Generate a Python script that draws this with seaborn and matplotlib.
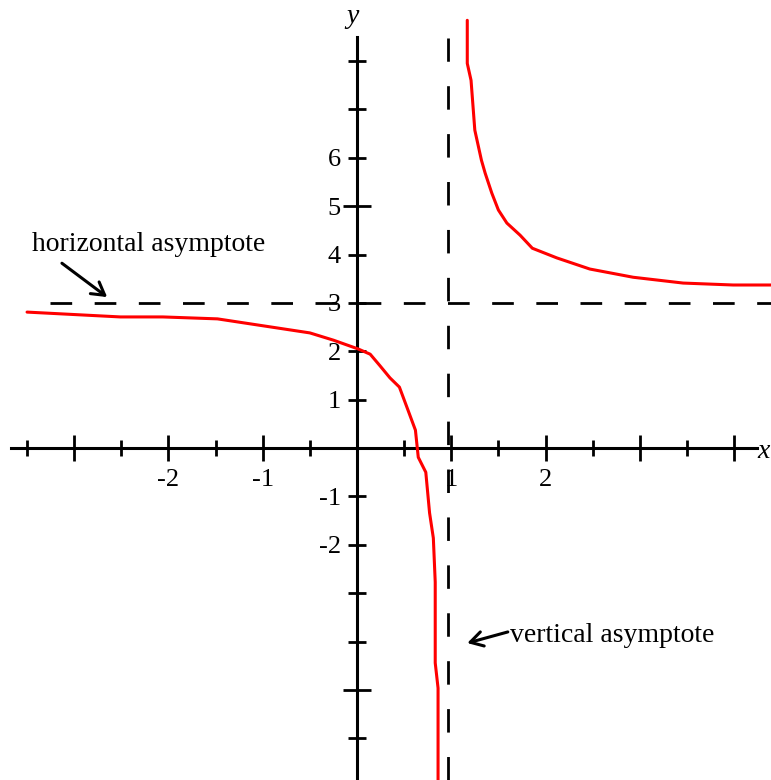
import matplotlib
matplotlib.use("Agg")
import matplotlib.pyplot as plt
import seaborn as sns
import pandas as pd

# ---------------- data ----------------
left_x = [-3.50, -2.51, -2.06, -1.48, -0.50, -0.25, 0.01, 0.14, 0.24, 0.35, 0.45,
          0.54, 0.62, 0.65, 0.73, 0.77, 0.81, 0.83, 0.83, 0.86, 0.86]
left_y = [2.81, 2.71, 2.71, 2.67, 2.38, 2.23, 2.05, 1.94, 1.71, 1.45, 1.26,
          0.79, 0.37, -0.19, -0.50, -1.34, -1.86, -2.77, -4.44, -4.96, -7.07]
right_x = [1.17, 1.17, 1.21, 1.25, 1.32, 1.36, 1.43, 1.50, 1.59, 1.73, 1.86,
           2.12, 2.47, 2.93, 3.46, 3.99, 4.43]
right_y = [8.84, 7.95, 7.60, 6.57, 5.95, 5.68, 5.27, 4.92, 4.65, 4.40, 4.13,
           3.93, 3.70, 3.53, 3.41, 3.37, 3.37]
h_asymptote = 3.0
v_asymptote = 0.97

x_major = [-3, -2, -1, 1, 2, 3, 4]
x_major_labels = ["", "-2", "-1", "1", "2", "", ""]
x_minor = [-3.5, -2.5, -1.5, -0.5, 0.5, 1.5, 2.5, 3.5]
y_major = [-5, 5]
y_major_labels = ["", "5"]
y_minor = [-6, -4, -3, -2, -1, 1, 2, 3, 4, 6, 7, 8]
y_minor_labels = ["", "", "", "-2", "-1", "1", "2", "3", "4", "6", "", ""]

h_label = "horizontal asymptote"
v_label = "vertical asymptote"

# ---------------- style ----------------
sns.set_style("ticks")
plt.rcParams["font.family"] = ["Liberation Serif", "DejaVu Serif"]
plt.rcParams["text.color"] = "black"
plt.rcParams["xtick.color"] = "black"
plt.rcParams["ytick.color"] = "black"
plt.rcParams["xtick.labelcolor"] = "black"
plt.rcParams["ytick.labelcolor"] = "black"

fig = plt.figure(figsize=(7.71, 7.80), dpi=100)
ax = fig.add_axes([0, 0, 1, 1])
ax.set_facecolor("white")
ax.set_xlim(-3.787, 4.392)
ax.set_ylim(-6.86, 9.26)

# axes through origin
for s in ["top", "right"]:
    ax.spines[s].set_visible(False)
ax.spines["left"].set_position(("data", 0))
ax.spines["bottom"].set_position(("data", 0))
ax.spines["left"].set_bounds(-6.86, 8.49)
ax.spines["bottom"].set_bounds(-3.67, 4.24)
for s in ["left", "bottom"]:
    ax.spines[s].set_linewidth(2.2)
    ax.spines[s].set_color("black")
    ax.spines[s].set_zorder(2.5)

ax.set_xticks(x_major, x_major_labels)
ax.set_xticks(x_minor, minor=True)
ax.set_yticks(y_major, y_major_labels)
ax.set_yticks(y_minor, y_minor_labels, minor=True)

ax.tick_params(axis="x", which="major", direction="inout", length=19.4, width=2,
               color="black", labelcolor="black", labelsize=19, pad=5.6, bottom=True)
ax.tick_params(axis="x", which="minor", direction="inout", length=12, width=2,
               color="black", bottom=True)
ax.tick_params(axis="y", which="major", direction="inout", length=20.6, width=2,
               color="black", labelcolor="black", labelsize=19, pad=1.3, left=True)
ax.tick_params(axis="y", which="minor", direction="inout", length=13.2, width=2,
               color="black", labelcolor="black", labelsize=19, pad=4.9, left=True)

# asymptotes
ax.axhline(h_asymptote, xmin=50 / 771, xmax=1, color="black", lw=2,
           dashes=(7.8, 8.1), zorder=2)
ax.axvline(v_asymptote, ymin=0, ymax=1 - 38 / 780, color="black", lw=2,
           dashes=(8.45, 8.8), zorder=2)

# curve branches
df_left = pd.DataFrame({"x": left_x, "y": left_y})
df_right = pd.DataFrame({"x": right_x, "y": right_y})
sns.lineplot(data=df_left, x="x", y="y", sort=False, estimator=None,
             color="#ff0000", linewidth=2.2, ax=ax, zorder=3)
sns.lineplot(data=df_right, x="x", y="y", sort=False, estimator=None,
             color="#ff0000", linewidth=2.2, ax=ax, zorder=3)
ax.set_xlabel("")
ax.set_ylabel("")

# axis names
ax.text(4.25, -0.21, "x", fontsize=20, style="italic", ha="left", va="baseline",
        color="black")
ax.text(-0.05, 8.78, "y", fontsize=20, style="italic", ha="center", va="baseline",
        color="black")

# annotations
arrow_style = dict(arrowstyle="->,head_length=0.6,head_width=0.35",
                   lw=2.2, color="black", shrinkA=0, shrinkB=0, mutation_scale=15)
ax.text(-3.45, 4.21, h_label, fontsize=20, ha="left", va="center", color="black")
ax.annotate("", xy=(-2.65, 3.12), xytext=(-3.13, 3.82), arrowprops=arrow_style)
ax.text(1.62, -3.88, v_label, fontsize=20, ha="left", va="center", color="black")
ax.annotate("", xy=(1.17, -4.03), xytext=(1.60, -3.80), arrowprops=arrow_style)

fig.savefig("out.png", dpi=100, facecolor="white")
